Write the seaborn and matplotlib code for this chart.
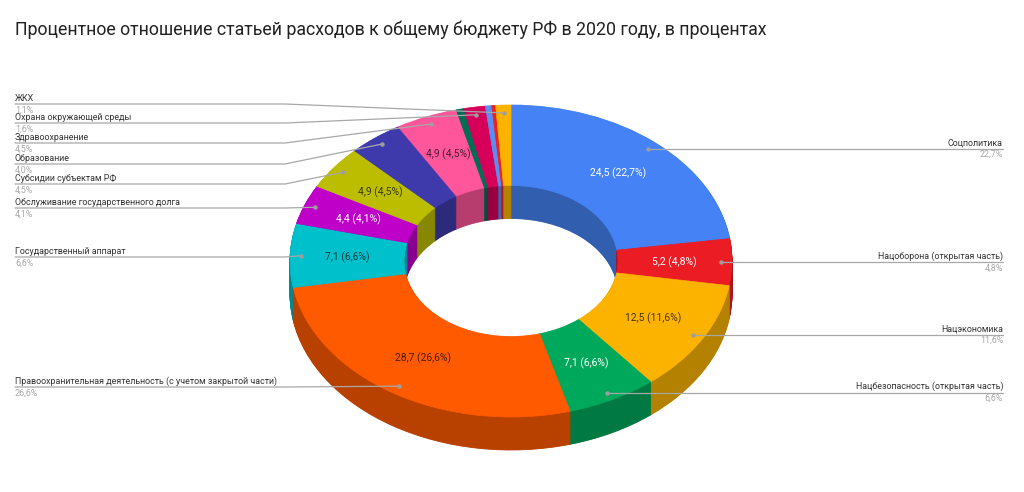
import numpy as np
import matplotlib.pyplot as plt
import seaborn as sns
from matplotlib.colors import to_rgb

# budget items, clockwise from 12 o'clock (trillion rub.)
categories = ["Соцполитика", "Нацоборона (открытая часть)", "Нацэкономика",
              "Нацбезопасность (открытая часть)",
              "Правоохранительная деятельность (с учетом закрытой части)",
              "Государственный аппарат", "Обслуживание государственного долга",
              "Субсидии субъектам РФ", "Образование", "Здравоохранение",
              "", "Охрана окружающей среды", "", "", "ЖКХ"]
spending = [24.5, 5.2, 12.5, 7.1, 28.7, 7.1, 4.4, 4.9, 4.3, 4.9,
            0.6, 1.7, 0.5, 0.3, 1.2]
colors = ["#4582f5", "#ec1c24", "#fbb300", "#00a85b", "#ff5a00", "#00c0cb",
          "#be00c8", "#bdbd00", "#3f3aab", "#ff559a", "#006e55", "#d6005a",
          "#5b8ef0", "#ee2020", "#fbb300"]
white_text = ["Соцполитика", "Нацоборона (открытая часть)",
              "Нацбезопасность (открытая часть)",
              "Обслуживание государственного долга"]
title = "Процентное отношение статьей расходов к общему бюджету РФ в 2020 году, в процентах"

# y of the leader line for labels on the left side (px from top)
left_rows = {"ЖКХ": 104, "Охрана окружающей среды": 123, "Здравоохранение": 143,
             "Образование": 164, "Субсидии субъектам РФ": 184,
             "Обслуживание государственного долга": 208,
             "Государственный аппарат": 257,
             "Правоохранительная деятельность (с учетом закрытой части)": 387}

W, H = 1024, 492
CX, CY = 511, 261     # donut centre in px
RX, RY = 221, 156     # outer radius in px (squashed vertically)
HOLE = 0.484
DEPTH = 33


def px(x, y):
    return (x - CX) / RX, (CY - y) / RY


def darker(c, f):
    return tuple(v * f for v in to_rgb(c))


sns.set_theme(style="white")
plt.rcParams["font.family"] = ["Roboto", "DejaVu Sans"]

fig = plt.figure(figsize=(W / 100, H / 100), dpi=100)
ax = fig.add_axes([0, 0, 1, 1])

# side walls: stack of darker donuts shifted down
side = [darker(c, 0.72) for c in colors]
for off in np.linspace(DEPTH / RY, 0, 46)[:-1]:
    ws, _ = ax.pie(spending, colors=side, startangle=90, counterclock=False,
                   center=(0, -off), wedgeprops=dict(width=1 - HOLE, linewidth=0.6))
    for w in ws:
        w.set_edgecolor(w.get_facecolor())

wedges, _ = ax.pie(spending, colors=colors, startangle=90, counterclock=False,
                   wedgeprops=dict(width=1 - HOLE, linewidth=0.5))
for w in wedges:
    w.set_edgecolor(w.get_facecolor())

ax.set_aspect("auto")
ax.set_xlim(-CX / RX, (W - CX) / RX)
ax.set_ylim(-(H - CY) / RY, CY / RY)
ax.axis("off")

total = sum(spending)
gap = 1.2 / RY
fs = 6.4
for w, name, val, col in zip(wedges, categories, spending, colors):
    share = val / total * 100
    a = np.deg2rad((w.theta1 + w.theta2) / 2)
    if share > 4.05:
        tc = "white" if name in white_text else darker(col, 0.3)
        ax.text(0.74 * np.cos(a), 0.74 * np.sin(a),
                f"{val:.1f} ({share:.1f}%)".replace(".", ","),
                ha="center", va="center", fontsize=7.5, color=tc)
    if not name:
        continue
    dx, dy = 0.95 * np.cos(a), 0.95 * np.sin(a)
    pct = f"{share:.1f}%".replace(".", ",")
    ax.plot(dx, dy, "o", ms=2.2, color="#9e9e9e", zorder=5)
    if np.cos(a) < 0:
        ly = px(0, left_rows[name])[1]
        x0 = px(15, 0)[0]
        xe = min(px(285, 0)[0], dx)
        ax.plot([x0, xe, dx], [ly, ly, dy], color="#a8a8a8", lw=0.9)
        ax.text(x0, ly + gap, name, ha="left", va="bottom", fontsize=fs, color="#333333")
        ax.text(x0, ly - gap, pct, ha="left", va="top", fontsize=fs, color="#a8a8a8")
    else:
        x1 = px(1003, 0)[0]
        ax.plot([dx, x1], [dy, dy], color="#a8a8a8", lw=0.9)
        ax.text(x1, dy + gap, name, ha="right", va="bottom", fontsize=fs, color="#333333")
        ax.text(x1, dy - gap, pct, ha="right", va="top", fontsize=fs, color="#a8a8a8")

fig.text(15 / W, 1 - 30 / H, title, ha="left", va="center", fontsize=12.8, color="#212121")

fig.savefig("out.png", dpi=100)
